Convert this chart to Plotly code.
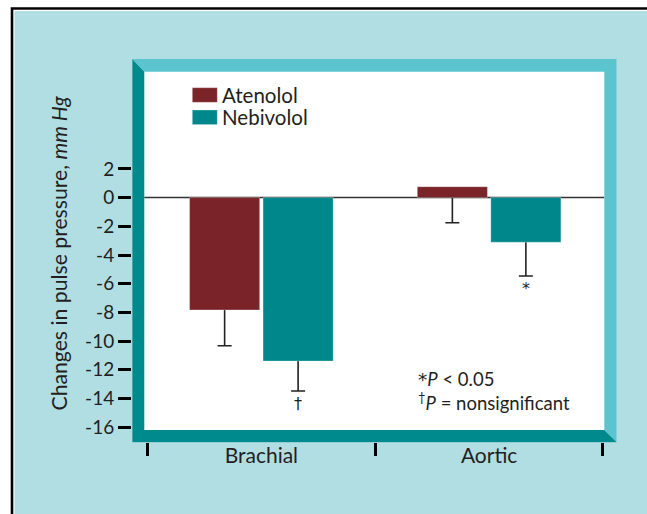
import plotly.graph_objects as go

# ---- data ----
categories = ["Brachial", "Aortic"]
series_names = ["Atenolol", "Nebivolol"]
atenolol = [-7.83, 0.76]
nebivolol = [-11.39, -3.11]
atenolol_err = [2.49, 2.51]
nebivolol_err = [2.09, 2.35]
sig_marks = [["", ""], ["\u2020", "*"]]  # marks under bars, per series
y_tickvals = [2, 0, -2, -4, -6, -8, -10, -12, -14, -16]
y_ticktext = ["2", "0", "-2", "-4", "-6", "-8", "-10", "-12", "-14", "-16"]
y_title = "Changes in pulse pressure, <i>mm Hg</i>"
footnote = ("<span style=\"font-family:DejaVu Sans\">*</span><i>P</i> < 0.05<br>"
            "<sup>\u2020</sup><i>P</i> = nonsignificant")

# ---- style ----
W, H = 647, 514
ML, MR, MT, MB = 132, 30, 59, 72
PW, PH = W - ML - MR, H - MT - MB
BG = "#B0DEE3"
LIGHT = "#5BC4CF"
DARK = "#008A8E"
COL = ["#7A2429", "#00878B"]
FONT = "Lato"
FS = 19
TXT = "#231F20"


def px(x):
    return (x - ML) / PW


def py(y):
    return (H - MB - y) / PH


# frame geometry (pixels)
L, R, T, B = 132.3, 616.7, 59, 442.3
l, r, t, b = 144.3, 604.3, 71.7, 430

fig = go.Figure()

# page background panel with black top/left border (right/bottom edges fall off-canvas)
fig.add_shape(type="rect", xref="paper", yref="paper", layer="below",
              x0=px(12), x1=px(W + 40), y0=py(8.5), y1=py(H + 40),
              fillcolor="white", line=dict(color="black", width=2.6))
fig.add_shape(type="rect", xref="paper", yref="paper", layer="below",
              x0=px(14.5), x1=px(W + 40), y0=py(11), y1=py(H + 40),
              fillcolor=BG, line=dict(width=0))
# white plotting panel
fig.add_shape(type="rect", xref="paper", yref="paper", layer="below",
              x0=px(L), x1=px(R), y0=py(T), y1=py(B),
              fillcolor="white", line=dict(width=0))
# zero line across the inner white area only
fig.add_shape(type="line", xref="paper", yref="y", layer="below",
              x0=px(l), x1=px(r), y0=0, y1=0, line=dict(color="#333333", width=1.5))

vals = [atenolol, nebivolol]
errs = [atenolol_err, nebivolol_err]
for i, name in enumerate(series_names):
    # invisible carrier holding the one-sided error bar (its hat hides under the bar)
    mid = [v * 0.5 for v in vals[i]]
    minus = [e - 0.5 * v for v, e in zip(vals[i], errs[i])]
    fig.add_trace(go.Bar(
        x=categories, y=mid, offsetgroup=str(i), showlegend=False, hoverinfo="skip",
        marker=dict(color="rgba(0,0,0,0)", line=dict(width=0)),
        error_y=dict(type="data", symmetric=False, array=[0] * len(categories),
                     arrayminus=minus, color="#222222", thickness=1.6, width=7),
    ))
    fig.add_trace(go.Bar(
        x=categories, y=vals[i], name=name, offsetgroup=str(i),
        marker=dict(color=COL[i], line=dict(width=0.6, color="rgba(255,255,255,0.5)")),
        showlegend=False,
    ))

# significance marks under error bars
slot = (1 - 0.355) / 2
for i in range(len(series_names)):
    for j, c in enumerate(categories):
        if sig_marks[i][j]:
            fig.add_annotation(x=j + (i - 0.5) * slot, y=vals[i][j] - errs[i][j],
                               xref="x", yref="y", text=sig_marks[i][j], showarrow=False,
                               yanchor="top", yshift=-1,
                               font=dict(family="DejaVu Sans", size=16, color=TXT))


def path(pts):
    return "M " + " L ".join(f"{px(a):.5f},{py(c):.5f}" for a, c in pts) + " Z"


fig.add_shape(type="path", xref="paper", yref="paper", layer="above",
              path=path([(L, T), (R, T), (R, B), (r, b), (r, t), (l, t)]),
              fillcolor=LIGHT, line=dict(width=0))
fig.add_shape(type="path", xref="paper", yref="paper", layer="above",
              path=path([(L, T), (l, t), (l, b), (r, b), (R, B), (L, B)]),
              fillcolor=DARK, line=dict(width=0))

# legend (custom boxes)
for i, name in enumerate(series_names):
    y0 = 87.7 + i * 22.3
    fig.add_shape(type="rect", xref="paper", yref="paper", layer="above",
                  x0=px(192.3), x1=px(217.3), y0=py(y0), y1=py(y0 + 14.6),
                  fillcolor=COL[i], line=dict(width=0.6, color="rgba(255,255,255,0.5)"))
    fig.add_annotation(xref="paper", yref="paper", x=px(219.5), y=py(y0 + 7.3),
                       text=name, showarrow=False, xanchor="left", yanchor="middle",
                       font=dict(family=FONT, size=20.5, color=TXT))

# footnote
fig.add_annotation(xref="paper", yref="paper", x=px(416), y=py(391), text=footnote,
                   showarrow=False, xanchor="left", yanchor="middle", align="left",
                   font=dict(family=FONT, size=18.5, color=TXT))

# y title
fig.add_annotation(xref="paper", yref="paper", x=px(59), y=py(253.5), text=y_title,
                   textangle=-90, showarrow=False, xanchor="center", yanchor="middle",
                   font=dict(family=FONT, size=21.2, color=TXT))

y0v = 197.6
ppu = 14.35
fig.update_layout(
    width=W, height=H, margin=dict(l=ML, r=MR, t=MT, b=MB),
    paper_bgcolor="white", plot_bgcolor="rgba(0,0,0,0)",
    barmode="group", bargap=0.3546, bargroupgap=0.046,
    font=dict(family=FONT, size=FS, color=TXT),
    xaxis=dict(type="category", range=[-0.568, 1.5615], tickson="boundaries",
               ticks="outside", ticklen=13, tickwidth=3, tickcolor="black",
               showgrid=False, zeroline=False, showline=False,
               ticklabelstandoff=-1, tickfont=dict(size=21)),
    yaxis=dict(range=[-(H - MB - y0v) / ppu, (y0v - MT) / ppu],
               tickvals=y_tickvals, ticktext=y_ticktext,
               ticks="outside", ticklen=13, tickwidth=3, tickcolor="black",
               showgrid=False, zeroline=False, showline=False, tickfont=dict(size=19)),
)

fig.write_html("out.html", config={"displayModeBar": False},
               post_script="document.body.style.margin='0';"
                           "document.body.style.overflow='hidden';"
                           "document.documentElement.style.overflow='hidden';")
